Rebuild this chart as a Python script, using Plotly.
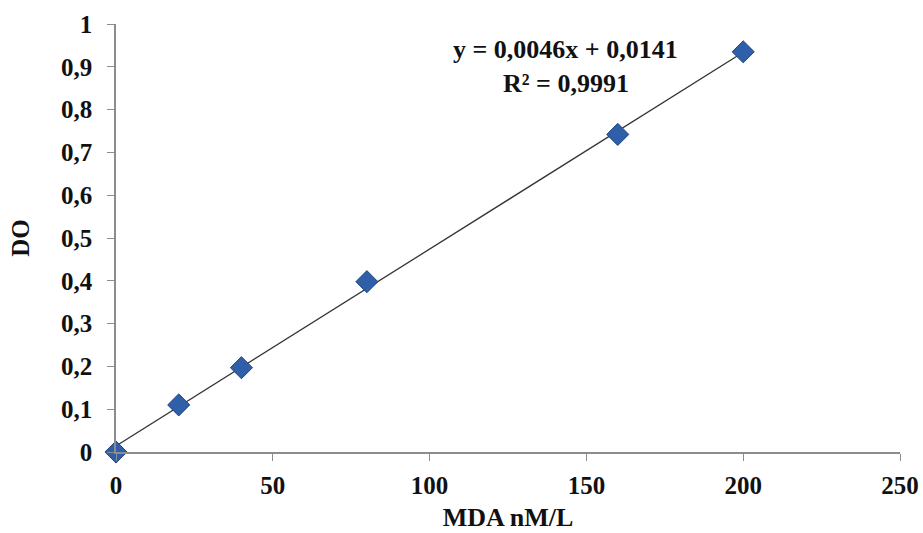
import plotly.graph_objects as go

# Data
mda = [0, 20, 40, 80, 160, 200]
do_vals = [0.0, 0.11, 0.197, 0.398, 0.742, 0.935]
slope = 0.0046
intercept = 0.0141
fit_x = [0, 200]
fit_y = [slope * x + intercept for x in fit_x]
eq_text = "y = 0,0046x + 0,0141"
r2_text = "R² = 0,9991"

font_family = "Liberation Serif, Times New Roman, serif"

fig = go.Figure()
fig.add_trace(go.Scatter(
    x=fit_x, y=fit_y, mode="lines",
    line=dict(color="#333333", width=1.3),
    showlegend=False, hoverinfo="skip"))
fig.add_trace(go.Scatter(
    x=mda, y=do_vals, mode="markers",
    marker=dict(symbol="diamond", size=17, color="#2f5fa8",
                line=dict(color="#1f4580", width=1)),
    showlegend=False, cliponaxis=False))

L, R, T, B = 116, 23, 24, 81
pw, ph = 923 - L - R, 533 - T - B
fig.add_annotation(x=(565 - L) / pw, y=(533 - B - 50) / ph,
                   xref="paper", yref="paper", xanchor="center", yanchor="middle",
                   text="<b>" + eq_text + "</b>",
                   showarrow=False, font=dict(family=font_family, size=26, color="#111"))
fig.add_annotation(x=(566 - L) / pw, y=(533 - B - 83) / ph,
                   xref="paper", yref="paper", xanchor="center", yanchor="middle",
                   text="<b>" + r2_text + "</b>",
                   showarrow=False, font=dict(family=font_family, size=26, color="#111"))

axis_common = dict(
    showgrid=False, zeroline=False, showline=True, automargin=False,
    linecolor="#8c8c8c", linewidth=1.5,
    ticks="outside", ticklen=7, tickcolor="#8c8c8c", tickwidth=1.2,
    tickfont=dict(family=font_family, size=25, color="#111"),
    tickprefix="<b>", ticksuffix="</b>",
)

fig.update_xaxes(range=[0, 250], dtick=50, tick0=0, ticklabelstandoff=3,
                 title=dict(text="<b>MDA nM/L</b>", standoff=10,
                            font=dict(family=font_family, size=26, color="#111")),
                 **axis_common)
fig.update_yaxes(range=[0, 1], dtick=0.1, tick0=0, ticklabelstandoff=10,
                 title=dict(text="<b>DO</b>", standoff=24,
                            font=dict(family=font_family, size=25, color="#111")),
                 **axis_common)

fig.update_layout(
    width=923, height=533,
    margin=dict(l=L, r=R, t=T, b=B),
    paper_bgcolor="white", plot_bgcolor="white",
    separators=", ",
    font=dict(family=font_family, color="#111"),
)

fig.write_html("out.html")
